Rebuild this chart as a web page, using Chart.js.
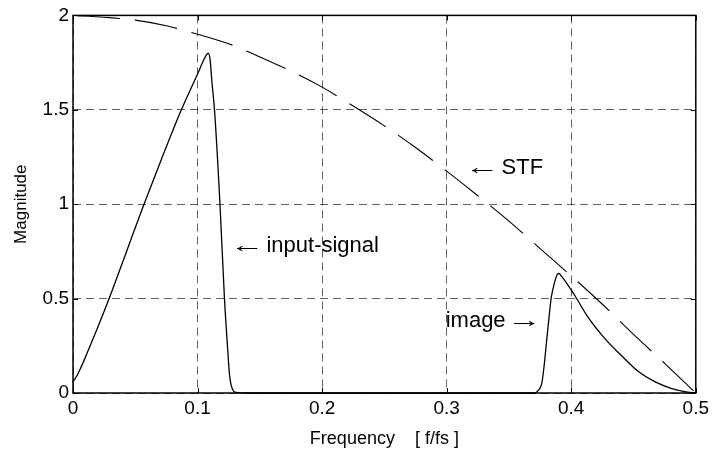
<!DOCTYPE html>
<html>
<head>
<meta charset="utf-8">
<script src="https://cdn.jsdelivr.net/npm/chart.js@4.4.1/dist/chart.umd.min.js"></script>
<style>
  html, body { margin: 0; padding: 0; background: #fff; }
  #wrap { width: 713px; height: 451px; }
</style>
</head>
<body>
<div id="wrap"><canvas id="c" width="713" height="451"></canvas></div>
<script>
// Signal spectrum: input signal band plus its image near fs/2
const signalFreq = [0, 0.003, 0.006, 0.010, 0.015, 0.020, 0.029, 0.043, 0.057, 0.072, 0.087, 0.100, 0.104, 0.107, 0.1085, 0.110, 0.1115, 0.1136, 0.118, 0.1216, 0.124, 0.1256, 0.127, 0.129, 0.131, 0.140, 0.250, 0.360, 0.370, 0.373, 0.3763, 0.378, 0.380, 0.382, 0.384, 0.387, 0.3885, 0.390, 0.392, 0.3995, 0.403, 0.4136, 0.427, 0.440, 0.4536, 0.467, 0.480, 0.491, 0.500];
const signalMag  = [0.06, 0.09, 0.13, 0.19, 0.27, 0.35, 0.50, 0.75, 1.00, 1.255, 1.50, 1.69, 1.75, 1.79, 1.80, 1.77, 1.65, 1.50, 1.00, 0.50, 0.25, 0.10, 0.04, 0.01, 0.003, 0, 0, 0, 0, 0.01, 0.05, 0.13, 0.26, 0.39, 0.507, 0.595, 0.625, 0.633, 0.62, 0.55, 0.515, 0.40, 0.288, 0.20, 0.115, 0.06, 0.025, 0.007, 0];

// Signal transfer function
const stfFreq = [0, 0.025, 0.05, 0.075, 0.10, 0.125, 0.15, 0.175, 0.20, 0.225, 0.25, 0.275, 0.30, 0.325, 0.35, 0.375, 0.40, 0.425, 0.45, 0.475, 0.50];
const stfMag  = [2.00, 1.99, 1.975, 1.945, 1.90, 1.85, 1.78, 1.705, 1.62, 1.52, 1.415, 1.30, 1.175, 1.045, 0.91, 0.765, 0.62, 0.47, 0.31, 0.157, 0];

// Axis ticks
const xTicks = [0, 0.1, 0.2, 0.3, 0.4, 0.5];
const xTickLabels = ['0', '0.1', '0.2', '0.3', '0.4', '0.5'];
const yTicks = [0, 0.5, 1, 1.5, 2];
const yTickLabels = ['0', '0.5', '1', '1.5', '2'];

// Text annotations, anchored at their left end in data units
const noteText  = ['input-signal', 'STF', 'image'];
const noteArrow = ['\u2190', '\u2190', '\u2192'];
const noteFreq  = [0.1312, 0.320, 0.2992];
const noteMag   = [0.779, 1.19, 0.384];

const FONT = '"Liberation Sans", Arial, Helvetica, sans-serif';

const toPoints = (xs, ys) => xs.map((x, i) => ({ x: x, y: ys[i] }));

// draws an arrow glyph so that its ink spans the given width starting at x
function drawArrow(ctx, glyph, x, y, width) {
  const m = ctx.measureText(glyph);
  const inkLeft = -m.actualBoundingBoxLeft;
  const inkRight = m.actualBoundingBoxRight;
  const s = width / Math.max(1, inkRight - inkLeft);
  ctx.save();
  ctx.translate(x - inkLeft * s, y);
  ctx.scale(s, 1);
  ctx.fillText(glyph, 0, 0);
  ctx.restore();
}

const framePlugin = {
  id: 'frame',
  afterDatasetsDraw(chart) {
    const { ctx, chartArea: a, scales } = chart;
    ctx.save();
    // inward tick marks on all four sides
    ctx.strokeStyle = '#000';
    ctx.lineWidth = 1;
    const tl = 5;
    ctx.beginPath();
    xTicks.forEach(v => {
      const px = Math.round(scales.x.getPixelForValue(v)) + 0.5;
      ctx.moveTo(px, a.bottom); ctx.lineTo(px, a.bottom - tl);
      ctx.moveTo(px, a.top); ctx.lineTo(px, a.top + tl);
    });
    yTicks.forEach(v => {
      const py = Math.round(scales.y.getPixelForValue(v)) + 0.5;
      ctx.moveTo(a.left, py); ctx.lineTo(a.left + tl, py);
      ctx.moveTo(a.right, py); ctx.lineTo(a.right - tl, py);
    });
    ctx.stroke();
    // axes box
    ctx.lineWidth = 1.5;
    ctx.strokeRect(a.left, a.top, a.right - a.left, a.bottom - a.top);
    // annotations
    ctx.fillStyle = '#000';
    ctx.font = '22px ' + FONT;
    ctx.textAlign = 'left';
    ctx.textBaseline = 'middle';
    const arrowW = 22, gap = 8;
    noteText.forEach((t, i) => {
      const x = scales.x.getPixelForValue(noteFreq[i]);
      const y = scales.y.getPixelForValue(noteMag[i]);
      if (noteArrow[i] === '\u2190') {
        drawArrow(ctx, noteArrow[i], x, y, arrowW);
        ctx.fillText(t, x + arrowW + gap, y);
      } else {
        ctx.fillText(t, x, y);
        drawArrow(ctx, noteArrow[i], x + ctx.measureText(t).width + gap, y, arrowW);
      }
    });
    ctx.restore();
  }
};

new Chart(document.getElementById('c'), {
  type: 'line',
  data: {
    datasets: [
      {
        label: 'signal',
        data: toPoints(signalFreq, signalMag),
        borderColor: '#000',
        borderWidth: 1.3,
        pointRadius: 0,
        cubicInterpolationMode: 'monotone',
        fill: false
      },
      {
        label: 'STF',
        data: toPoints(stfFreq, stfMag),
        borderColor: '#000',
        borderWidth: 1.1,
        borderDash: [43, 15],
        borderDashOffset: 54,
        pointRadius: 0,
        cubicInterpolationMode: 'monotone',
        fill: false
      }
    ]
  },
  options: {
    responsive: false,
    animation: false,
    devicePixelRatio: 1,
    clip: false,
    layout: { padding: { top: 13, right: 15, left: 0, bottom: 0 } },
    plugins: { legend: { display: false }, tooltip: { enabled: false } },
    scales: {
      x: {
        type: 'linear',
        min: 0, max: 0.5,
        afterFit(s) { s.height = 58; },
        afterBuildTicks(s) { s.ticks = xTicks.map(v => ({ value: v })); },
        ticks: {
          autoSkip: false,
          maxRotation: 0,
          padding: 4,
          color: '#000',
          font: { family: FONT, size: 19 },
          callback(v) { const i = xTicks.indexOf(v); return i >= 0 ? xTickLabels[i] : ''; }
        },
        grid: { color: 'rgba(0,0,0,0.62)', lineWidth: 1, drawTicks: false },
        border: { display: false, dash: [8, 5] },
        title: {
          display: true,
          text: 'Frequency    [ f/fs ]',
          color: '#000',
          font: { family: FONT, size: 18 },
          padding: { top: 0, bottom: 1 }
        }
      },
      y: {
        type: 'linear',
        min: 0, max: 2,
        afterFit(s) { s.width = 73; },
        afterBuildTicks(s) { s.ticks = yTicks.map(v => ({ value: v })); },
        ticks: {
          autoSkip: false,
          padding: 4,
          color: '#000',
          font: { family: FONT, size: 19 },
          callback(v) { const i = yTicks.indexOf(v); return i >= 0 ? yTickLabels[i] : ''; }
        },
        grid: { color: 'rgba(0,0,0,0.62)', lineWidth: 1, drawTicks: false },
        border: { display: false, dash: [8, 5] },
        title: {
          display: true,
          text: 'Magnitude',
          color: '#000',
          font: { family: FONT, size: 17 },
          padding: { top: 11, bottom: 0 }
        }
      }
    }
  },
  plugins: [framePlugin]
});
</script>
</body>
</html>
